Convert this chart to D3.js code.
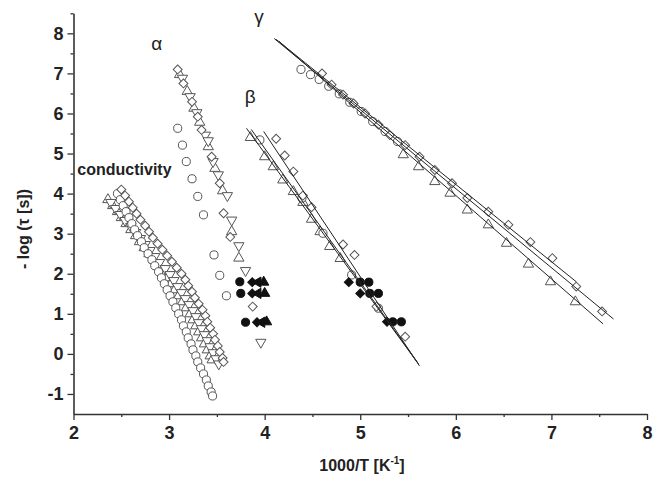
<!DOCTYPE html>
<html>
<head>
<meta charset="utf-8">
<script src="https://cdn.jsdelivr.net/npm/d3@7"></script>
<style>
  body { margin: 0; background: #fff; }
  text { font-family: "Liberation Sans", Arial, sans-serif; }
</style>
</head>
<body>
<svg id="chart" width="654" height="478"></svg>
<script>
// ---- axis ticks ----
const xMajor = [2, 3, 4, 5, 6, 7, 8];
const xMinor = [2.5, 3.5, 4.5, 5.5, 6.5, 7.5];
const yMajor = [-1, 0, 1, 2, 3, 4, 5, 6, 7, 8];
const yMinor = [-0.5, 0.5, 1.5, 2.5, 3.5, 4.5, 5.5, 6.5, 7.5, 8.5];

// ---- conductivity relaxation (1000/T, -log tau) ----
const condCircles = [[2.46,4.0],[2.49,3.85],[2.52,3.7],[2.55,3.55],[2.58,3.4],[2.61,3.25],[2.64,3.1],[2.67,2.95],[2.71,2.8],[2.74,2.65],[2.78,2.5],[2.82,2.35],[2.85,2.2],[2.89,2.05],[2.92,1.9],[2.95,1.75],[2.98,1.6],[3.01,1.45],[3.04,1.3],[3.07,1.15],[3.10,1.0],[3.13,0.85],[3.15,0.7],[3.18,0.55],[3.20,0.4],[3.23,0.25],[3.25,0.1],[3.28,-0.05],[3.30,-0.2],[3.33,-0.35],[3.36,-0.5],[3.39,-0.65],[3.41,-0.8],[3.44,-0.95],[3.455,-1.05]];
const condUp = [[2.36,3.85],[2.41,3.7],[2.46,3.55],[2.50,3.4],[2.55,3.25],[2.60,3.1],[2.65,2.95],[2.69,2.8],[2.74,2.65],[2.79,2.5],[2.84,2.35],[2.89,2.2],[2.93,2.05],[2.98,1.9],[3.02,1.75],[3.06,1.6],[3.10,1.45],[3.14,1.3],[3.18,1.15],[3.22,1.0],[3.25,0.85],[3.28,0.7],[3.31,0.55],[3.34,0.4],[3.37,0.25],[3.40,0.1],[3.43,-0.05],[3.45,-0.15]];
const condDown = [[2.39,3.78],[2.44,3.63],[2.49,3.48],[2.54,3.33],[2.60,3.18],[2.65,3.03],[2.70,2.88],[2.75,2.73],[2.80,2.58],[2.85,2.43],[2.90,2.28],[2.96,2.13],[3.01,1.98],[3.05,1.83],[3.09,1.68],[3.13,1.53],[3.17,1.38],[3.21,1.23],[3.25,1.08],[3.28,0.93],[3.31,0.78],[3.34,0.63],[3.37,0.48],[3.40,0.33],[3.43,0.18],[3.46,0.03],[3.49,-0.12],[3.52,-0.25]];
const condDiamonds = [[2.50,4.1],[2.54,3.95],[2.58,3.8],[2.62,3.65],[2.66,3.5],[2.70,3.35],[2.75,3.2],[2.79,3.05],[2.83,2.9],[2.88,2.75],[2.93,2.6],[2.98,2.45],[3.03,2.3],[3.08,2.15],[3.13,2.0],[3.17,1.85],[3.20,1.7],[3.24,1.55],[3.27,1.4],[3.31,1.25],[3.35,1.1],[3.38,0.95],[3.40,0.8],[3.43,0.65],[3.46,0.5],[3.48,0.35],[3.51,0.2],[3.53,0.05],[3.56,-0.1],[3.57,-0.2]];

// ---- alpha relaxation ----
const alphaCircles = [[3.09,5.63],[3.14,5.21],[3.18,4.80],[3.24,4.37],[3.30,3.93],[3.36,3.47],[3.47,2.47],[3.53,1.96],[3.60,1.45]];
const alphaDiamonds = [[3.09,7.10],[3.15,6.75],[3.24,6.29],[3.30,5.92],[3.34,5.59],[3.445,4.92],[3.53,4.26],[3.57,3.51],[3.64,2.92],[3.875,1.18]];
const alphaUp = [[3.11,6.97],[3.19,6.55],[3.26,6.13],[3.32,5.78],[3.41,5.17],[3.48,4.63],[3.56,4.07],[3.655,3.05],[3.73,2.39]];
const alphaDown = [[3.14,6.88],[3.22,6.42],[3.29,6.02],[3.38,5.46],[3.41,5.32],[3.46,4.80],[3.515,4.47],[3.61,3.95],[3.655,3.34],[3.73,2.70],[3.80,2.08],[3.96,0.29]];

// ---- filled symbols (second data set) ----
const filledCircles = [[3.74,1.80],[3.75,1.51],[3.80,0.79],[5.00,1.79],[5.10,1.51],[5.34,0.80],[5.09,1.79],[5.19,1.51],[5.43,0.80]];
const filledDiamonds = [[3.87,1.79],[3.87,1.51],[3.92,0.79],[4.88,1.79],[5.00,1.51],[5.28,0.80]];
const filledLeft = [[3.93,1.79],[3.93,1.51],[3.97,0.79]];
const filledUp = [[3.99,1.79],[4.00,1.51],[4.02,0.80]];

// ---- beta relaxation ----
const betaDiamonds = [[4.12,5.37],[4.21,4.95],[4.30,4.55],[4.40,3.95],[4.49,3.66],[4.82,2.73],[4.94,2.47],[5.17,1.18],[5.47,0.43]];
const betaUp = [[3.85,5.40],[4.00,4.92],[4.09,4.67],[4.19,4.34],[4.30,4.05],[4.40,3.78],[4.49,3.36],[4.58,3.05],[4.68,2.68],[4.79,2.38]];
const betaCircles = [[3.95,5.34],[4.39,3.89],[4.61,3.01],[4.91,1.97],[5.19,1.14]];
const betaFits = [
  [[3.81,5.63],[5.59,-0.19]],
  [[3.86,5.60],[5.61,-0.25]],
  [[3.99,5.55],[5.62,-0.30]]
];

// ---- gamma relaxation ----
const gammaCircles = [[4.38,7.10],[4.48,6.97],[4.57,6.85],[4.67,6.68],[4.78,6.49],[4.89,6.28],[5.01,6.05],[5.13,5.80],[5.26,5.55],[5.39,5.30]];
const gammaDiamonds = [[4.60,7.00],[4.70,6.72],[4.82,6.47],[4.93,6.25],[5.05,6.00],[5.19,5.72],[5.31,5.46],[5.47,5.21],[5.62,4.92],[5.78,4.59],[5.96,4.26],[6.12,3.89],[6.34,3.55],[6.55,3.22],[6.78,2.79],[7.01,2.39],[7.26,1.68],[7.53,1.06]];
const gammaUp = [[5.45,4.97],[5.61,4.67],[5.78,4.30],[5.94,4.01],[6.12,3.59],[6.34,3.22],[6.53,2.76],[6.76,2.24],[6.99,1.80],[7.25,1.30]];
const gammaFits = [
  [[4.10,7.87],[7.65,0.87]],
  [[4.12,7.85],[7.26,1.80]],
  [[4.15,7.80],[7.54,0.75]]
];

// ---- text labels ----
const relaxLabels = [
  { text: "α", at: [2.87, 7.75] },
  { text: "β", at: [3.85, 6.42] },
  { text: "γ", at: [3.94, 8.42] }
];
const condLabel = { text: "conductivity", at: [2.04, 4.47] };
const xTitle = "1000/T [K";
const yTitle = "- log (τ [s])";

// ---- scales ----
const svg = d3.select("#chart");
const x = d3.scaleLinear().domain([2, 8]).range([73.5, 647]);
const y = d3.scaleLinear().domain([-1.5, 8.5]).range([414, 13.3]);

const axisColor = "#333";
const intLabel = d => (d < 0 ? "-" + Math.abs(d) : String(d));

// x axis
const gx = svg.append("g").attr("transform", `translate(0,${y(-1.5)})`);
gx.append("g").attr("class", "major")
  .call(d3.axisBottom(x).tickValues(xMajor).tickSize(6).tickPadding(6).tickSizeOuter(0).tickFormat(intLabel));
gx.append("g").call(d3.axisBottom(x).tickValues(xMinor).tickSize(3).tickFormat(""))
  .call(g => g.select(".domain").remove());

// y axis
const gy = svg.append("g").attr("transform", `translate(${x(2)},0)`);
gy.append("g").attr("class", "major")
  .call(d3.axisLeft(y).tickValues(yMajor).tickSize(6).tickPadding(4).tickSizeOuter(0).tickFormat(intLabel));
gy.append("g").call(d3.axisLeft(y).tickValues(yMinor).tickSize(3).tickFormat(""))
  .call(g => g.select(".domain").remove());

svg.selectAll(".domain").attr("stroke", axisColor).attr("stroke-width", 1.6);
svg.selectAll(".tick line").attr("stroke", axisColor).attr("stroke-width", 1.3);
svg.selectAll(".major .tick text")
  .attr("font-family", "Liberation Sans, Arial, sans-serif")
  .attr("font-size", 18).attr("font-weight", "bold").attr("fill", "#222");

// axis titles
const xt = svg.append("text")
  .attr("x", 362).attr("y", 471)
  .attr("text-anchor", "middle")
  .attr("font-size", 16).attr("font-weight", "bold").attr("fill", "#222")
  .text(xTitle);
xt.append("tspan").attr("font-size", 10).attr("dy", -7).text("-1");
xt.append("tspan").attr("dy", 7).text("]");

svg.append("text")
  .attr("transform", "translate(29,229) rotate(-90)")
  .attr("text-anchor", "middle")
  .attr("font-size", 16).attr("font-weight", "bold").attr("fill", "#222")
  .text(yTitle);

// ---- symbols ----
const shapes = {
  circle: d3.symbol().type(d3.symbolCircle).size(52)(),
  tri: d3.symbol().type(d3.symbolTriangle).size(46)(),
  square: d3.symbol().type(d3.symbolSquare).size(40)()
};

function drawSeries(data, shape, rot, filled) {
  svg.append("g").selectAll("path").data(data).join("path")
    .attr("d", shapes[shape])
    .attr("transform", d => `translate(${x(d[0])},${y(d[1])}) rotate(${rot})`)
    .attr("fill", filled ? "#111" : "#fff")
    .attr("stroke", filled ? "#111" : "#555")
    .attr("stroke-width", 1);
}

// conductivity
drawSeries(condUp, "tri", 0, false);
drawSeries(condDown, "tri", 180, false);
drawSeries(condCircles, "circle", 0, false);
drawSeries(condDiamonds, "square", 45, false);

// alpha
drawSeries(alphaCircles, "circle", 0, false);
drawSeries(alphaUp, "tri", 0, false);
drawSeries(alphaDown, "tri", 180, false);
drawSeries(alphaDiamonds, "square", 45, false);

// beta
drawSeries(betaUp, "tri", 0, false);
drawSeries(betaCircles, "circle", 0, false);
drawSeries(betaDiamonds, "square", 45, false);

// gamma
drawSeries(gammaUp, "tri", 0, false);
drawSeries(gammaCircles, "circle", 0, false);
drawSeries(gammaDiamonds, "square", 45, false);

// filled set
drawSeries(filledCircles, "circle", 0, true);
drawSeries(filledDiamonds, "square", 45, true);
drawSeries(filledLeft, "tri", -90, true);
drawSeries(filledUp, "tri", 0, true);

// fitted Arrhenius lines
const line = d3.line().x(d => x(d[0])).y(d => y(d[1]));
svg.append("g").selectAll("path").data(betaFits.concat(gammaFits)).join("path")
  .attr("d", line)
  .attr("fill", "none").attr("stroke", "#222").attr("stroke-width", 1);

// labels
svg.append("g").selectAll("text").data(relaxLabels).join("text")
  .attr("x", d => x(d.at[0])).attr("y", d => y(d.at[1]))
  .attr("text-anchor", "middle").attr("dominant-baseline", "central")
  .attr("font-family", "Liberation Serif, Times New Roman, serif")
  .attr("font-size", 19).attr("fill", "#222")
  .text(d => d.text);

svg.append("text")
  .attr("x", x(condLabel.at[0])).attr("y", y(condLabel.at[1]))
  .attr("font-size", 16).attr("font-weight", "bold").attr("fill", "#222")
  .text(condLabel.text);
</script>
</body>
</html>
